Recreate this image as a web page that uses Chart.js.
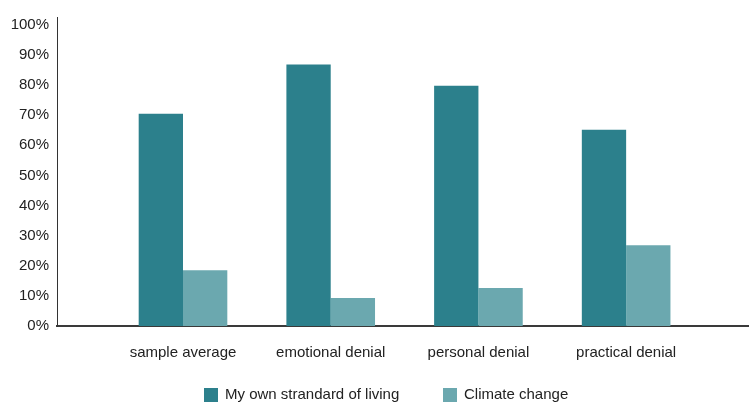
<!DOCTYPE html>
<html>
<head>
<meta charset="utf-8">
<script src="https://cdn.jsdelivr.net/npm/chart.js@4/dist/chart.umd.min.js"></script>
<style>
  html, body { margin: 0; padding: 0; background: #fff; overflow: hidden; }
  #wrap { position: relative; width: 749px; height: 402px; overflow: hidden; }
  #legend { position: absolute; left: 0; top: 388px; width: 749px; height: 20px;
            font-family: 'Liberation Sans', Arial, sans-serif; font-size: 15px; color: #222; }
  #legend .item { position: absolute; top: 0; white-space: nowrap; }
  #legend .box { position: absolute; left: 0; top: 0; width: 14px; height: 14px; }
  #legend .txt { position: absolute; left: 21px; top: -3px; }
</style>
</head>
<body>
<div id="wrap">
  <canvas id="chart" width="749" height="402"></canvas>
  <div id="legend"></div>
</div>
<script>
// categories and values (percent)
const categories = ['sample average', 'emotional denial', 'personal denial', 'practical denial'];
const ownLiving = [70.5, 86.8, 79.8, 65.2];
const climate = [18.5, 9.3, 12.6, 26.8];
const yTicks = [0, 10, 20, 30, 40, 50, 60, 70, 80, 90, 100];

const seriesNames = ['My own strandard of living', 'Climate change'];
const colors = ['#2c808c', '#6ba8af'];
const legendLeft = [204, 443];

// x is a linear axis so the groups can sit inside the wide plot like the original
const toPoints = vals => vals.map((v, i) => ({ x: i + 1, y: v }));

const ctx = document.getElementById('chart').getContext('2d');
const chart = new Chart(ctx, {
  type: 'bar',
  data: {
    datasets: [
      { label: seriesNames[0], data: toPoints(ownLiving), backgroundColor: colors[0] },
      { label: seriesNames[1], data: toPoints(climate), backgroundColor: colors[1] }
    ]
  },
  options: {
    responsive: false,
    animation: false,
    layout: { padding: { left: 0, right: 1, top: 16, bottom: 0 } },
    datasets: { bar: { categoryPercentage: 0.6, barPercentage: 1.0 } },
    scales: {
      x: {
        type: 'linear',
        offset: false,
        min: 0.147,
        max: 4.825,
        grid: { display: false, drawTicks: false },
        border: { display: true, color: '#3a3a3a', width: 2 },
        afterBuildTicks: s => { s.ticks = categories.map((c, i) => ({ value: i + 1 })); },
        afterFit: s => { s.height = 76; },
        ticks: {
          autoSkip: false,
          maxRotation: 0,
          padding: 18,
          color: '#222',
          font: { family: "'Liberation Sans', Arial, sans-serif", size: 15 },
          callback: v => categories[v - 1]
        }
      },
      y: {
        min: 0,
        max: 102.6,
        grid: { display: false, drawTicks: false },
        border: { display: true, color: '#333', width: 1 },
        afterBuildTicks: s => { s.ticks = yTicks.map(v => ({ value: v })); },
        afterFit: s => { s.width = 57; },
        ticks: {
          padding: 8,
          color: '#222',
          font: { family: "'Liberation Sans', Arial, sans-serif", size: 15 },
          callback: v => v + '%'
        }
      }
    },
    plugins: {
      legend: { display: false },
      tooltip: { enabled: false }
    }
  }
});

// legend built from the datasets
const legend = document.getElementById('legend');
chart.data.datasets.forEach((ds, i) => {
  const item = document.createElement('div');
  item.className = 'item';
  item.style.left = legendLeft[i] + 'px';
  const box = document.createElement('span');
  box.className = 'box';
  box.style.background = ds.backgroundColor;
  const txt = document.createElement('span');
  txt.className = 'txt';
  txt.textContent = ds.label;
  item.appendChild(box);
  item.appendChild(txt);
  legend.appendChild(item);
});
</script>
</body>
</html>
